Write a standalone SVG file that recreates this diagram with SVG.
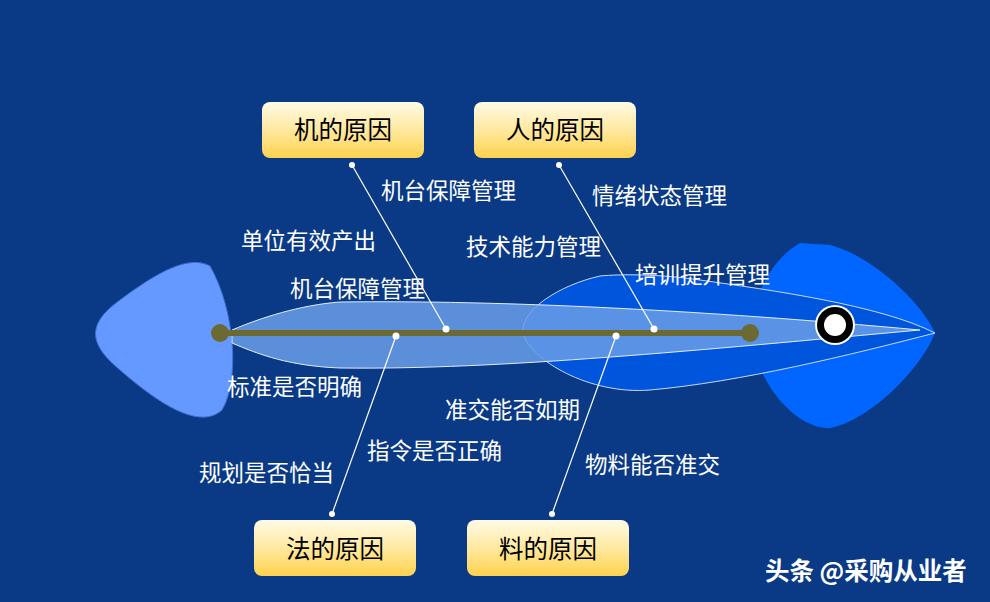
<svg xmlns="http://www.w3.org/2000/svg" width="990" height="602" viewBox="0 0 990 602">
<defs>
<linearGradient id="box" x1="0" y1="0" x2="0" y2="1"><stop offset="0" stop-color="#fffbe6"/><stop offset="0.5" stop-color="#ffe9a0"/><stop offset="1" stop-color="#ffd24d"/></linearGradient>
<style>
.t{font-family:"Noto Sans CJK SC","Liberation Sans",sans-serif;font-size:22.5px;fill:#fff}
.bt{font-family:"Noto Sans CJK SC","Liberation Sans",sans-serif;font-size:24.5px;fill:#000;text-anchor:middle}
.ln{stroke:#fff;stroke-width:1.2;fill:none}
.dot{fill:#fff}
</style>
</defs>
<rect width="990" height="602" fill="#0a3a86"/>
<g id="fish">
<path d="M210 266 C190 255 160 270 120 300 C85 325 90 345 120 370 C160 405 200 430 222 410 C240 380 235 310 210 266 Z" fill="#6699ff" stroke="#3f6fd0"/>
<path d="M800 243 C770 260 750 300 752 340 C760 390 800 430 830 428 C870 420 920 370 935 333 C920 300 870 255 830 245 Z" fill="#0066ff"/>
<path d="M600 276 C560 285 520 310 523 333 C530 360 590 395 650 390 C740 382 850 355 935 333 C880 305 770 290 700 280 C660 274 620 274 600 276 Z" fill="#0055dd" stroke="#c8d8ff" stroke-width="1"/>
<path d="M232 330 C260 318 300 305 340 302 C500 300 700 310 920 330 C700 350 500 370 340 368 C290 366 260 355 232 343 Z" fill="#6a9fe8" fill-opacity="0.85" stroke="#e0ecff" stroke-width="1"/>
<line x1="220" y1="333" x2="750" y2="333" stroke="#6b6a33" stroke-width="6"/>
<circle cx="220" cy="333" r="9" fill="#6b6a33"/>
<circle cx="750" cy="333" r="9" fill="#6b6a33"/>
<circle cx="835" cy="325" r="20" fill="#fff"/>
<circle cx="835" cy="325" r="18" fill="#000"/>
<circle cx="835" cy="325" r="11" fill="#fff"/>
</g>
<g id="connectors">
<line class="ln" x1="352" y1="165" x2="446" y2="329"/>
<line class="ln" x1="559" y1="165" x2="654" y2="329"/>
<line class="ln" x1="396" y1="336" x2="332" y2="514"/>
<line class="ln" x1="616" y1="336" x2="552" y2="514"/>
<circle class="dot" cx="352" cy="165" r="3"/><circle class="dot" cx="446" cy="329" r="3.5"/>
<circle class="dot" cx="559" cy="165" r="3"/><circle class="dot" cx="654" cy="329" r="3.5"/>
<circle class="dot" cx="396" cy="336" r="3.5"/><circle class="dot" cx="332" cy="514" r="3"/>
<circle class="dot" cx="616" cy="336" r="3.5"/><circle class="dot" cx="552" cy="514" r="3"/>
</g>
<g id="n1"><rect x="262" y="102" width="162" height="56" rx="8" fill="url(#box)"/><text class="bt" x="343" y="139">机的原因</text></g>
<g id="n2"><rect x="474" y="102" width="162" height="56" rx="8" fill="url(#box)"/><text class="bt" x="555" y="139">人的原因</text></g>
<g id="n3"><rect x="254" y="520" width="162" height="56" rx="8" fill="url(#box)"/><text class="bt" x="335" y="558">法的原因</text></g>
<g id="n4"><rect x="467" y="520" width="162" height="56" rx="8" fill="url(#box)"/><text class="bt" x="548" y="558">料的原因</text></g>
<g id="labels">
<text class="t" x="381" y="199">机台保障管理</text>
<text class="t" x="592" y="204">情绪状态管理</text>
<text class="t" x="241" y="249">单位有效产出</text>
<text class="t" x="466" y="255">技术能力管理</text>
<text class="t" x="635" y="283">培训提升管理</text>
<text class="t" x="290" y="297">机台保障管理</text>
<text class="t" x="227" y="395">标准是否明确</text>
<text class="t" x="445" y="418">准交能否如期</text>
<text class="t" x="367" y="459">指令是否正确</text>
<text class="t" x="585" y="473">物料能否准交</text>
<text class="t" x="199" y="481">规划是否恰当</text>
<text class="t" x="765" y="580" style="font-size:24.5px;font-weight:bold">头条 @采购从业者</text>
</g>
</svg>
